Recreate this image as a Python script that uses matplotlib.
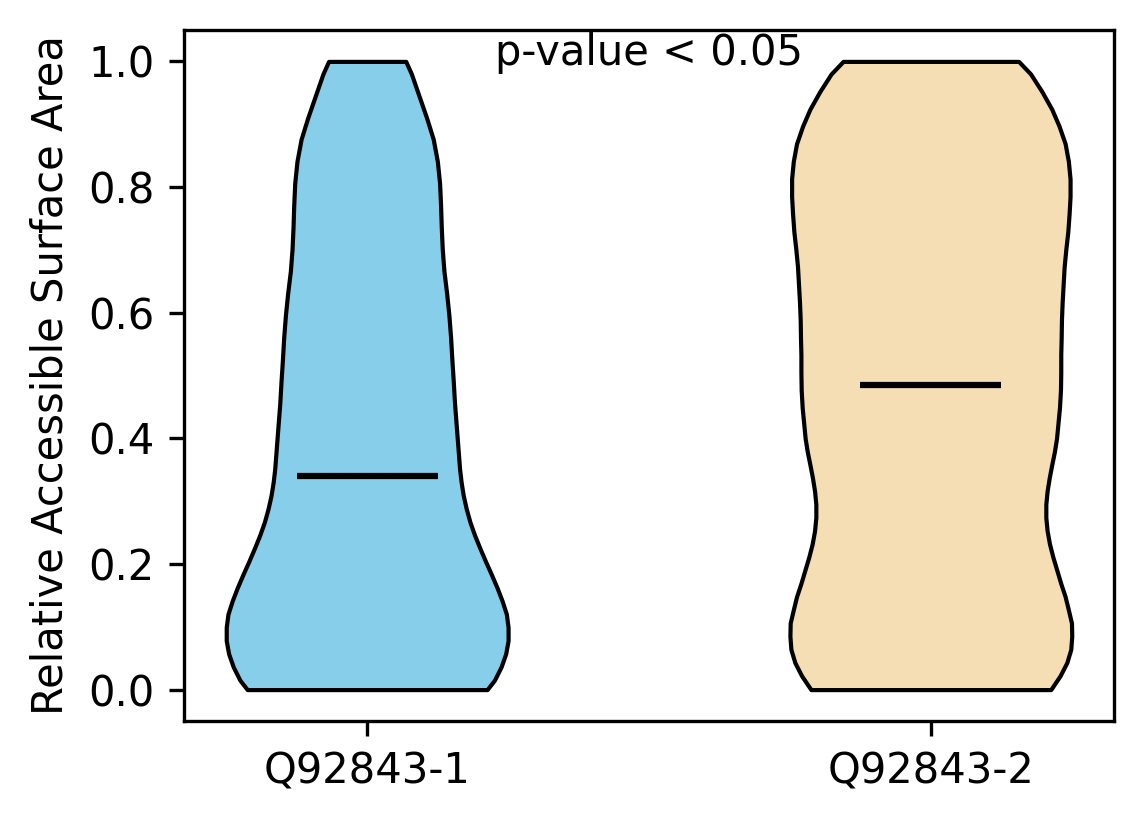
import matplotlib
matplotlib.use('Agg')
import matplotlib.pyplot as plt
import numpy as np

# violin outlines: RSA level and half-width (fraction of the widest point)
labels = ['Q92843-1', 'Q92843-2']
colors = ['#87CEEB', '#F5DEB3']
medians = [0.340, 0.485]

rsa_1 = [0.000, 0.015, 0.036, 0.057, 0.078, 0.099, 0.120, 0.141, 0.162, 0.183,
         0.204, 0.225, 0.246, 0.267, 0.288, 0.309, 0.330, 0.351, 0.386, 0.421,
         0.456, 0.491, 0.526, 0.561, 0.596, 0.631, 0.666, 0.701, 0.736, 0.771,
         0.806, 0.841, 0.876, 0.910, 0.945, 0.980, 1.000]
dens_1 = [0.851, 0.903, 0.950, 0.983, 1.000, 1.000, 0.988, 0.958, 0.922, 0.882,
          0.840, 0.800, 0.762, 0.729, 0.703, 0.682, 0.667, 0.656, 0.644, 0.632,
          0.620, 0.611, 0.601, 0.592, 0.580, 0.564, 0.545, 0.533, 0.526, 0.521,
          0.514, 0.498, 0.469, 0.422, 0.368, 0.314, 0.274]

rsa_2 = [0.000, 0.022, 0.043, 0.064, 0.085, 0.106, 0.127, 0.148, 0.169, 0.190,
         0.211, 0.232, 0.253, 0.274, 0.295, 0.316, 0.337, 0.358, 0.379, 0.400,
         0.421, 0.449, 0.477, 0.505, 0.533, 0.561, 0.589, 0.617, 0.645, 0.673,
         0.701, 0.729, 0.757, 0.785, 0.813, 0.841, 0.869, 0.897, 0.924, 0.952,
         0.980, 1.000]
dens_2 = [0.851, 0.917, 0.965, 0.993, 1.000, 0.998, 0.976, 0.953, 0.922, 0.894,
          0.866, 0.842, 0.825, 0.816, 0.816, 0.825, 0.840, 0.858, 0.877, 0.892,
          0.901, 0.913, 0.920, 0.922, 0.922, 0.925, 0.927, 0.932, 0.939, 0.946,
          0.958, 0.972, 0.981, 0.988, 0.988, 0.976, 0.953, 0.910, 0.858, 0.788,
          0.708, 0.623]

profiles = [(rsa_1, dens_1), (rsa_2, dens_2)]
width = 0.5

fig = plt.figure(figsize=(1144 / 300, 824 / 300), dpi=300)
ax = fig.add_axes([0.1608, 0.125, 0.9738 - 0.1608, 0.9636 - 0.125])

for pos, (ys, ds), col, med in zip([1, 2], profiles, colors, medians):
    ys = np.asarray(ys)
    hw = np.asarray(ds) * width / 2
    ax.fill_betweenx(ys, pos - hw, pos + hw, facecolor=col, edgecolor='black', linewidth=1.0)
    ax.hlines(med, pos - width / 4, pos + width / 4, colors='black', linewidth=1.5)

ax.set_xlim(0.675, 2.325)
ax.set_ylim(-0.05, 1.05)
ax.set_xticks([1, 2])
ax.set_xticklabels(labels)
ax.set_ylabel('Relative Accessible Surface Area')
ax.text(0.5, 0.95, 'p-value < 0.05', transform=ax.transAxes, ha='center', va='baseline')

fig.savefig('out.png', dpi=300)
